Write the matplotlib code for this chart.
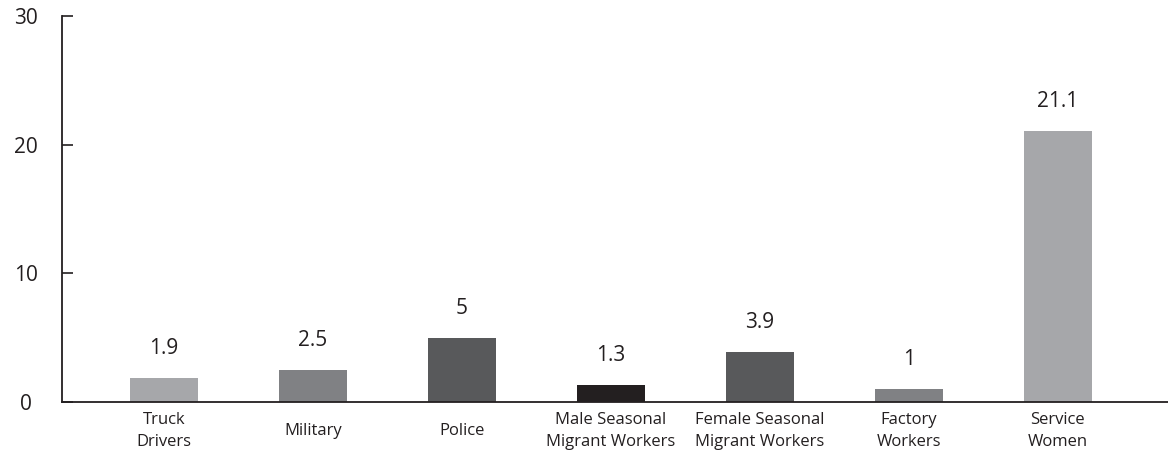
import matplotlib
matplotlib.use("Agg")
import matplotlib.pyplot as plt
import matplotlib.transforms as mtransforms
import numpy as np

categories = ["Truck\nDrivers", "Military", "Police", "Male Seasonal\nMigrant Workers",
              "Female Seasonal\nMigrant Workers", "Factory\nWorkers", "Service\nWomen"]
values = [1.9, 2.5, 5, 1.3, 3.9, 1, 21.1]
value_labels = ["1.9", "2.5", "5", "1.3", "3.9", "1", "21.1"]
bar_colors = ["#a6a7aa", "#808184", "#58595b", "#231f20", "#58595b", "#808184", "#a6a7aa"]
y_ticks = [0, 10, 20, 30]

fig = plt.figure(figsize=(11.68, 4.61), dpi=100)
ax = fig.add_axes([62/1168, 59/461, 1 - 62/1168, (402-16)/461])

x = np.arange(len(categories))
ax.bar(x, values, width=0.456, color=bar_colors)

for xi, v, lab in zip(x, values, value_labels):
    ax.annotate(lab, (xi, v), xytext=(0, 19), textcoords="offset pixels",
                ha="center", va="bottom", fontsize=15, family="Open Sans", color="#231f20")

ax.set_xlim(-0.685, 6.74)
ax.set_ylim(0, 30)
ax.set_yticks(y_ticks)
ax.set_yticklabels([str(t) for t in y_ticks], fontsize=15, family="Open Sans", color="#231f20")
shift = mtransforms.ScaledTranslation(0, -4/100, fig.dpi_scale_trans)
for lbl in ax.get_yticklabels():
    lbl.set_horizontalalignment("center")
    lbl.set_transform(lbl.get_transform() + shift)
ax.tick_params(axis="y", direction="in", length=8, width=1.2, color="#231f20", pad=26)

ax.set_xticks(x)
ax.set_xticklabels(categories, fontsize=12, family="Open Sans", color="#231f20", linespacing=1.5)
for lbl in ax.get_xticklabels():
    lbl.set_verticalalignment("center")
ax.tick_params(axis="x", length=0, pad=21)

for s in ["top", "right"]:
    ax.spines[s].set_visible(False)
for s in ["left", "bottom"]:
    ax.spines[s].set_color("#231f20")
    ax.spines[s].set_linewidth(1.3)

fig.savefig("out.png", dpi=100)
